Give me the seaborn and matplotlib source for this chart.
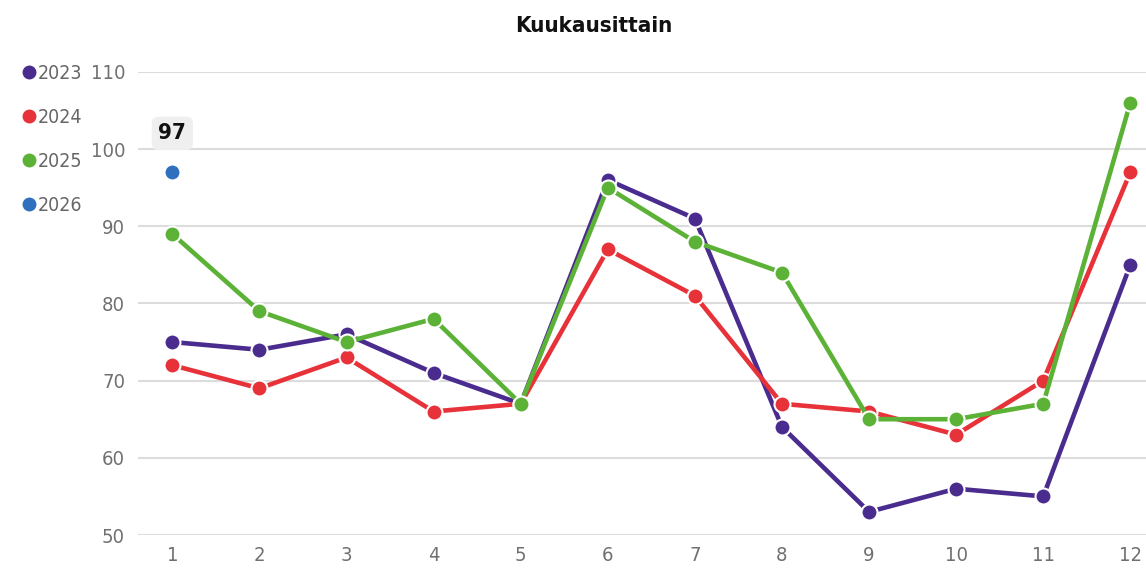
import pandas as pd
import seaborn as sns
import matplotlib.pyplot as plt
from matplotlib.lines import Line2D

months = list(range(1, 13))
v2023 = [75, 74, 76, 71, 67, 96, 91, 64, 53, 56, 55, 85]
v2024 = [72, 69, 73, 66, 67, 87, 81, 67, 66, 63, 70, 97]
v2025 = [89, 79, 75, 78, 67, 95, 88, 84, 65, 65, 67, 106]
v2026 = [97]

years = ['2023', '2024', '2025', '2026']
colors = ['#4a2c8f', '#e8323a', '#5cb236', '#2f6fbd']

rows = []
for yr, vals in zip(years, [v2023, v2024, v2025, v2026]):
    for m, v in zip(months, vals):
        rows.append({'month': m, 'value': v, 'year': yr})
df = pd.DataFrame(rows)

sns.set_style('white')
plt.rcParams['font.family'] = ['DejaVu Sans']
plt.rcParams['font.stretch'] = 'condensed'

fig = plt.figure(figsize=(11.46, 5.70), dpi=100)
ax = fig.add_axes([0.12, 0.0614, 0.88, 0.8125])

sns.lineplot(data=df, x='month', y='value', hue='year', palette=dict(zip(years, colors)),
             marker='o', markersize=11.5, markeredgecolor='white', markeredgewidth=1.5,
             linewidth=3.3, legend=False, ax=ax, zorder=3)

ax.set_xlim(0.6, 12.18)
ax.set_ylim(50, 110)
ax.set_xticks(months)
ax.set_yticks(range(50, 111, 10))
ax.grid(axis='y', color='#dcdcdc', linewidth=1.5)
ax.grid(axis='x', visible=False)
for s in ax.spines.values():
    s.set_visible(False)
ax.tick_params(axis='both', length=0, labelsize=14.5, labelcolor='#707070')
ax.tick_params(axis='y', pad=9)
ax.tick_params(axis='x', pad=8)
ax.set_xlabel('')
ax.set_ylabel('')

ax.annotate('97', xy=(1, 97), xytext=(0, 28), textcoords='offset points',
            ha='center', va='center', fontsize=16, fontweight='bold', color='#111111',
            bbox=dict(boxstyle='round,pad=0.3', fc='#efefef', ec='none'))

fig.suptitle('Kuukausittain', x=0.518, y=0.972, fontsize=16, fontweight='bold', color='#111111')

handles = [Line2D([], [], marker='o', linestyle='', color=c, markersize=9) for c in colors]
fig.legend(handles, years, loc='upper left', bbox_to_anchor=(0.0, 0.918), frameon=False,
           fontsize=14, labelcolor='#666666', handletextpad=-0.15, labelspacing=1.28,
           handlelength=1.2)

fig.savefig('out.png', dpi=100)
